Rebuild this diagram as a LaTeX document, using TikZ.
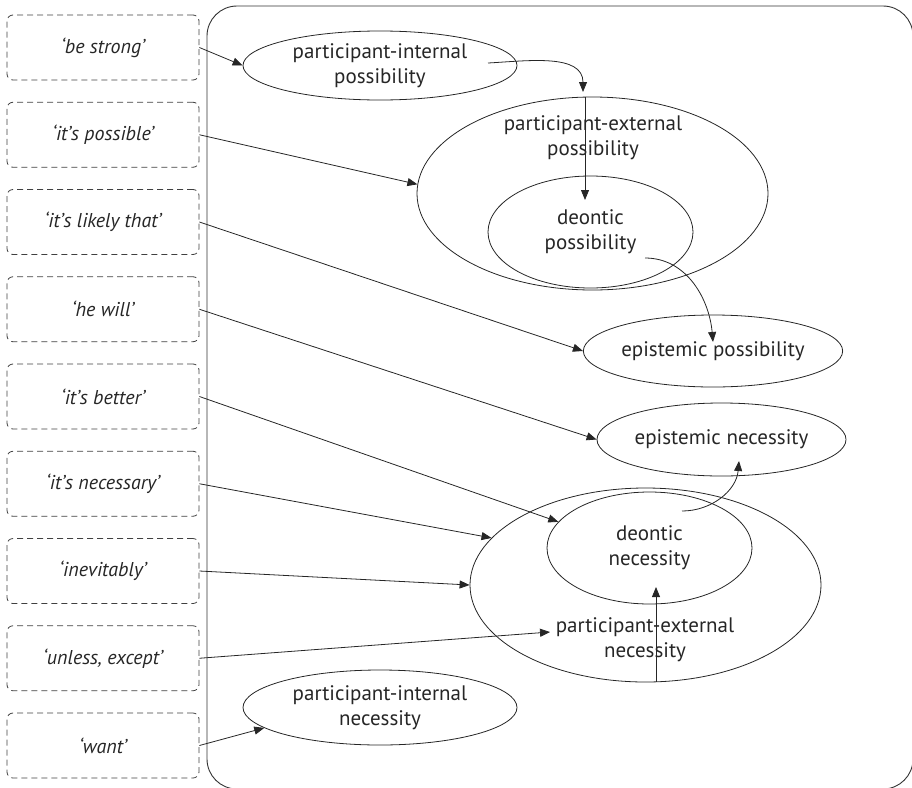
\documentclass[tikz,border=0pt]{standalone}
\usepackage{fontspec}
\setmainfont{PT Sans}
\usetikzlibrary{arrows.meta,shapes.geometric}
\begin{document}
\begin{tikzpicture}[x=1pt,y=-1pt,
  lbl/.style={draw=black!75, line width=0.8pt, dash pattern=on 6pt off 4pt, rounded corners=6pt, minimum width=192pt, minimum height=65pt, inner sep=0pt, font=\fontsize{20}{24}\selectfont\itshape, text=black!85},
  ell/.style={draw=black!85, ellipse, inner sep=0pt, line width=0.8pt, align=center, font=\fontsize{21}{25}\selectfont, text=black!85},
  txt/.style={align=center, inner sep=0pt, font=\fontsize{21}{25}\selectfont, text=black!85},
  arr/.style={-{Triangle[length=10pt,width=8pt]}, line width=0.8pt, draw=black!85}
]
\useasboundingbox (0,0) rectangle (912,787);
\draw[black!80, line width=0.9pt, rounded corners=30pt] (207,6) rectangle (913,789);

% label boxes
\node[lbl] (b1) at (103,47.5)  {‘be strong’};
\node[lbl] (b2) at (103,134.75) {‘it’s possible’};
\node[lbl] (b3) at (103,222)   {‘it’s likely that’};
\node[lbl] (b4) at (103,309.25) {‘he will’};
\node[lbl] (b5) at (103,396.5) {‘it’s better’};
\node[lbl] (b6) at (103,483.75) {‘it’s necessary’};
\node[lbl] (b7) at (103,571)   {‘inevitably’};
\node[lbl] (b8) at (103,658.25) {‘unless, except’};
\node[lbl] (b9) at (103,745.5) {‘want’};

% ellipses
\node[ell, minimum width=274pt, minimum height=69pt] (pip) at (380,65.5) {participant-internal\\possibility};
\node[ell, minimum width=351pt, minimum height=193pt] (pep) at (592.5,193.5) {};
\node[txt] (peptxt) at (593,137.5) {participant-external\\possibility};
\node[ell, minimum width=205pt, minimum height=112pt] (dp) at (590.5,232) {deontic\\possibility};
\node[ell, minimum width=248pt, minimum height=72pt] (ep) at (713,351) {epistemic possibility};
\node[ell, minimum width=249pt, minimum height=73pt] (en) at (721.5,439.5) {epistemic necessity};
\node[ell, minimum width=351pt, minimum height=194pt] (pen) at (645.5,585) {};
\node[txt] (pentxt) at (645,640) {participant-external\\necessity};
\node[ell, minimum width=205pt, minimum height=112pt] (dn) at (649.5,548) {deontic\\necessity};
\node[ell, minimum width=274pt, minimum height=75pt] (pin) at (380,707.5) {participant-internal\\necessity};

% coordinates
\coordinate (c1s) at (488,63);
\coordinate (c1e) at (583,92);
\coordinate (c2s) at (585,97);
\coordinate (c2e) at (585,200);
\coordinate (c3s) at (645,258);
\coordinate (c3e) at (713,342);
\coordinate (c4s) at (682,511);
\coordinate (c4e) at (739,461);
\coordinate (c5s) at (656,682);
\coordinate (c5e) at (656,587);
\coordinate (c8e) at (550,632);

% connectors from labels
\draw[arr] (b1.east) -- (pip.west);
\draw[arr] (b2.east) -- (pep.177);
\draw[arr] (b3.east) -- (ep.west);
\draw[arr] (b4.east) -- (en.west);
\draw[arr] (b5.east) -- (dn.164);
\draw[arr] (b6.east) -- (pen.163);
\draw[arr] (b7.east) -- (pen.west);
\draw[arr] (b8.east) -- (c8e);
\draw[arr] (b9.east) -- (pin.190);

% internal connectors
\draw[arr] (c1s) to[out=3,in=90] (c1e);
\draw[arr] (c2s) -- (c2e);
\draw[arr] (c3s) to[out=0,in=95] (c3e);
\draw[arr] (c4s) to[out=0,in=-95] (c4e);
\draw[arr] (c5s) -- (c5e);
\end{tikzpicture}
\end{document}
